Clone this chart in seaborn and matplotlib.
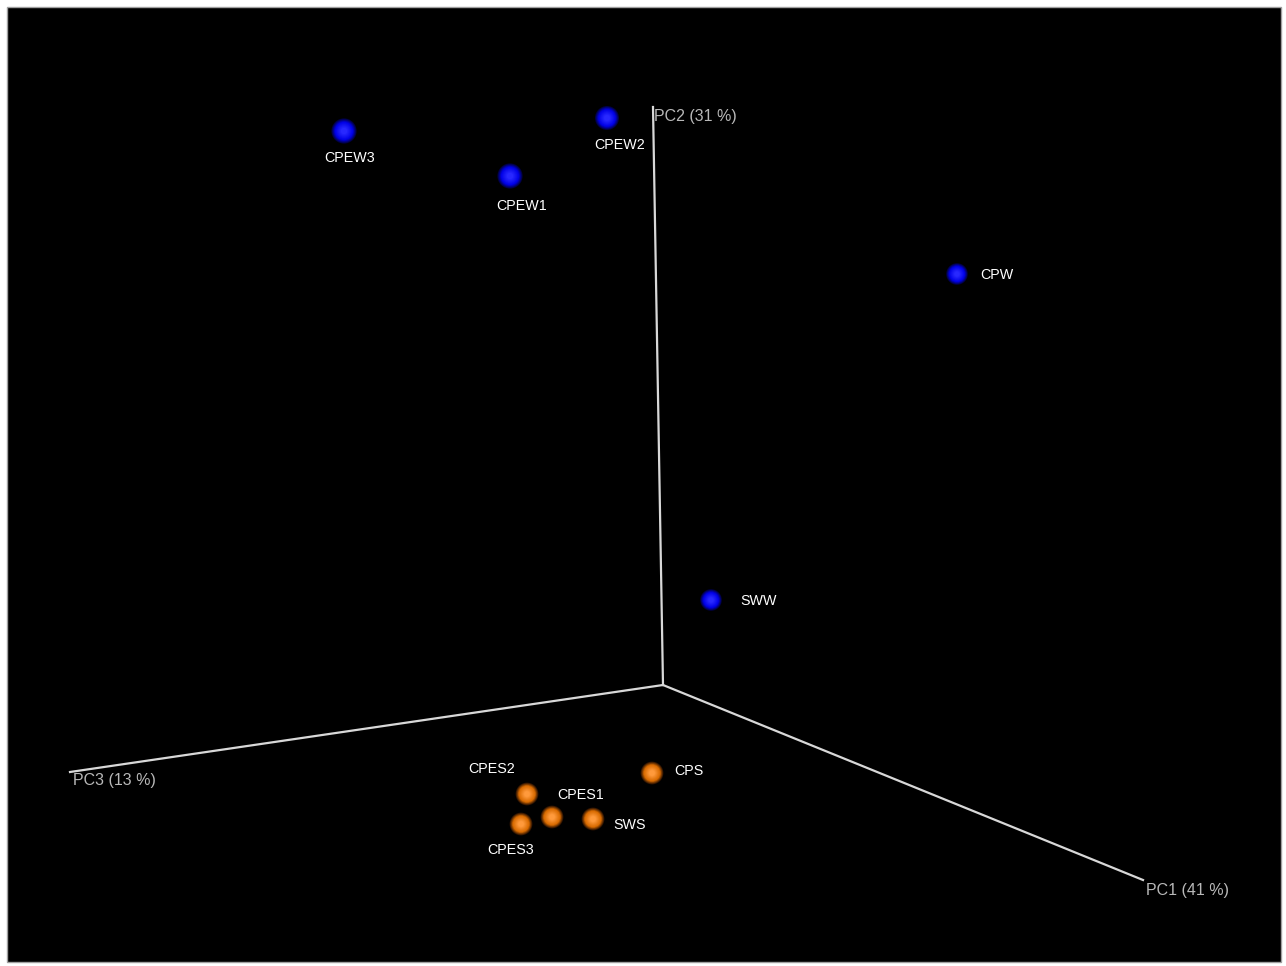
import matplotlib
matplotlib.use("Agg")
import matplotlib.pyplot as plt
import seaborn as sns
import pandas as pd
import numpy as np
from matplotlib.colors import to_rgb
from matplotlib.patches import Rectangle

# Sample names, groups and projected PCoA positions (screen plane of the 3D view)
samples = ["CPEW3", "CPEW2", "CPEW1", "CPW", "SWW",
           "CPS", "CPES2", "CPES1", "SWS", "CPES3"]
groups = ["water", "water", "water", "water", "water",
          "sediment", "sediment", "sediment", "sediment", "sediment"]
view_x = [344, 607, 510, 957, 711, 652, 527, 552, 593, 521]
view_y = [131, 118, 176, 274, 600, 773, 794, 817, 819, 824]
marker_d = [21, 20, 21, 18, 18, 19, 19, 19, 19, 19]

# Label anchor offsets for each sample
label_dx = [6, 13, 12, 23, 29, 22, -35, 29, 20, -10]
label_dy = [27, 27, 30, 1, 1, -2, -25, -22, 6, 26]
label_ha = ["center", "center", "center", "left", "left",
            "left", "center", "center", "left", "center"]

# Axes of the 3D view: origin and end points in the screen plane
axis_names = ["PC1 (41 %)", "PC2 (31 %)", "PC3 (13 %)"]
axis_origin = (663, 685)
axis_end_x = [1143, 653, 70]
axis_end_y = [880, 107, 772]
axis_label_x = [1146, 654, 73]
axis_label_y = [891, 117, 781]

df = pd.DataFrame({"sample": samples, "group": groups,
                   "x": view_x, "y": view_y, "d": marker_d})

W, H = 1286, 966
fig = plt.figure(figsize=(W / 100, H / 100), dpi=100, facecolor="white")
ax = fig.add_axes([0, 0, 1, 1])
ax.set_xlim(0, W)
ax.set_ylim(H, 0)
ax.axis("off")

ax.add_patch(Rectangle((6.5, 6.5), 1274.5, 955, facecolor="black",
                       edgecolor="#a0a0a0", linewidth=1.0, zorder=0))

# Axis lines
for ex, ey, name, lx, ly in zip(axis_end_x, axis_end_y, axis_names,
                                axis_label_x, axis_label_y):
    sns.lineplot(x=[axis_origin[0], ex], y=[axis_origin[1], ey], ax=ax,
                 color="#d8d8d8", linewidth=1.6, sort=False, zorder=2)
    ax.text(lx, ly, name, color="#b8b8b8", fontsize=11.5,
            family="Liberation Sans", ha="left", va="center", zorder=5)

# Shaded spheres: soft rim fading into a lighter centre
shades = {
    "water": ("#000040", "#0000e6", "#2828ff"),
    "sediment": ("#301400", "#d86a00", "#ff9a3c"),
}
n_layers = 12
for grp, (rim, body, core) in shades.items():
    sub = df[df["group"] == grp]
    rim, body, core = map(np.array, map(to_rgb, (rim, body, core)))
    for k in range(n_layers):
        t = k / (n_layers - 1)
        frac = 1.2 - 0.9 * t
        if t < 0.35:
            col = rim + (body - rim) * (t / 0.35)
        else:
            col = body + (core - body) * ((t - 0.35) / 0.65)
        sizes = ((sub["d"] * frac * 0.72) ** 2).tolist()
        sns.scatterplot(x=sub["x"].tolist(), y=sub["y"].tolist(), ax=ax,
                        s=sizes, color=tuple(col), edgecolor="none",
                        linewidth=0, legend=False, zorder=3 + k * 0.01)

for _, r in df.iterrows():
    i = samples.index(r["sample"])
    ax.text(r["x"] + label_dx[i], r["y"] + label_dy[i], r["sample"],
            color="white", fontsize=10.3, family="Liberation Sans",
            ha=label_ha[i], va="center", zorder=6)

fig.savefig("out.png", dpi=100, facecolor="white")
